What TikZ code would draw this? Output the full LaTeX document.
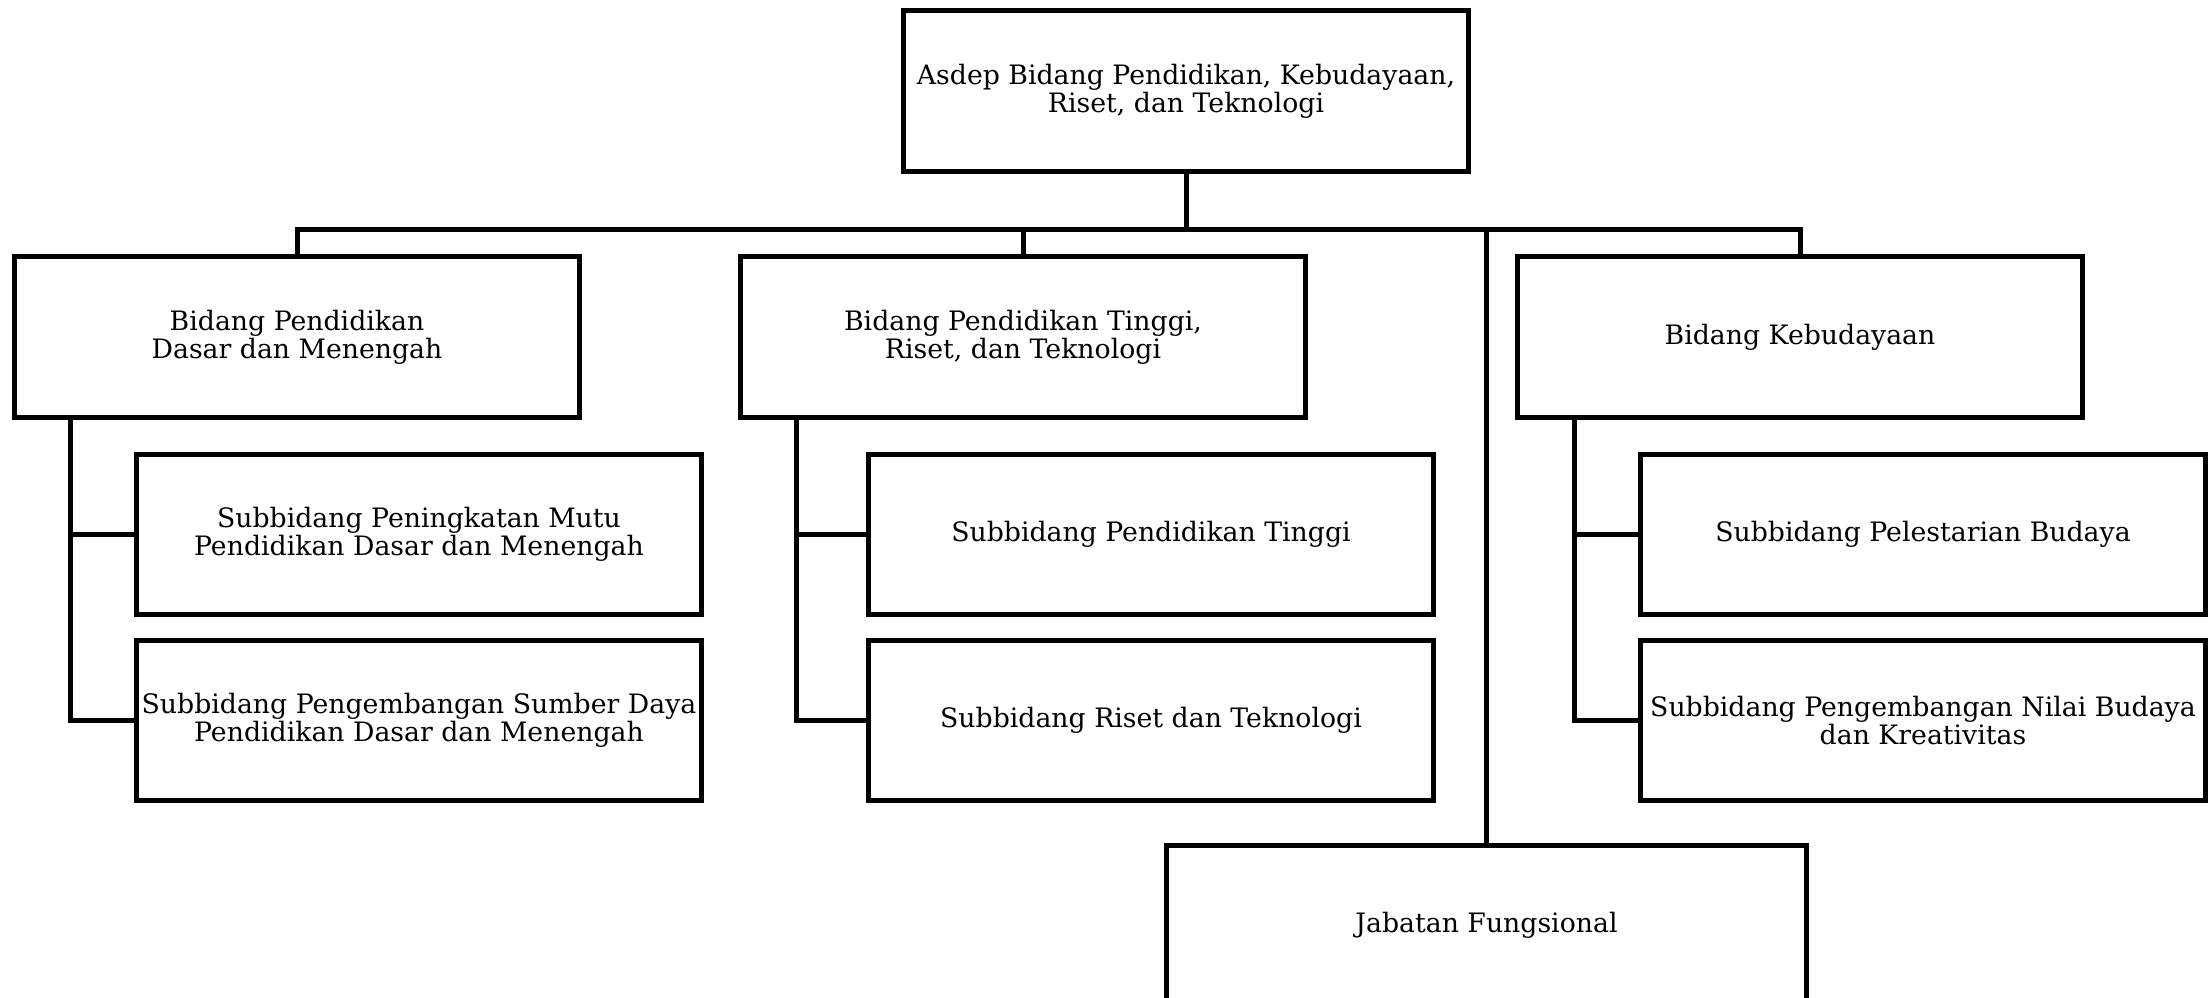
\documentclass[tikz,border=0pt]{standalone}
\usepackage{fontspec}
\setmainfont{DejaVu Serif}
\tikzset{
  unit/.style = {rectangle, draw=black, line width=1.42pt, align=center,
    inner sep=0pt, font=\fontsize{7.6}{7.9}\selectfont},
  bd/.style = {unit, minimum width=5.65cm, minimum height=1.6cm},% bidang / subbidang box
  jf/.style = {unit, minimum width=6.4cm, minimum height=1.6cm},% jabatan box
  link/.style = {draw=black, line width=1.42pt}
}
\begin{document}
\begin{tikzpicture}[x=0.01cm,y=-0.01cm]
\useasboundingbox (0,0) rectangle (2212,998);
\clip (0,0) rectangle (2212,998);
% boxes
\node [bd] (asdep) at (1186,91) {Asdep Bidang Pendidikan, Kebudayaan,\\Riset, dan Teknologi};
\node [bd] (dikdas) at (297,337) {Bidang Pendidikan\\Dasar dan Menengah};
\node [bd] (dikti) at (1023,337) {Bidang Pendidikan Tinggi,\\Riset, dan Teknologi};
\node [bd] (budaya) at (1800,337) {Bidang Kebudayaan};
\node [bd] (mutu) at (419,534.5) {Subbidang Peningkatan Mutu\\Pendidikan Dasar dan Menengah};
\node [bd] (sumber) at (419,720.5) {Subbidang Pengembangan Sumber Daya\\Pendidikan Dasar dan Menengah};
\node [bd] (tinggi) at (1151,534.5) {Subbidang Pendidikan Tinggi};
\node [bd] (riset) at (1151,720.5) {Subbidang Riset dan Teknologi};
\node [bd] (lestari) at (1923,534.5) {Subbidang Pelestarian Budaya};
\node [bd] (nilai) at (1923,720.5) {Subbidang Pengembangan Nilai Budaya\\dan Kreativitas};
\node [jf] (fungsi) at (1486.5,925.5) {Jabatan Fungsional};
% top level lines
\coordinate (bus) at (0,229.5);
\draw [link] (dikdas.north) -- (dikdas.north |- bus) -- (budaya.north |- bus) -- (budaya.north);
\draw [link] (asdep.south) -- (asdep.south |- bus);
\draw [link] (dikti.north) -- (dikti.north |- bus);
\draw [link] (fungsi.north |- bus) -- (fungsi.north);
% subbidang lines
\coordinate (sp1) at ([xshift=0.585cm]dikdas.south west);
\coordinate (sp2) at ([xshift=0.585cm]dikti.south west);
\coordinate (sp3) at ([xshift=0.595cm]budaya.south west);
\draw [link] (sp1) |- (sumber.west);
\draw [link] (sp1 |- mutu.west) -- (mutu.west);
\draw [link] (sp2) |- (riset.west);
\draw [link] (sp2 |- tinggi.west) -- (tinggi.west);
\draw [link] (sp3) |- (nilai.west);
\draw [link] (sp3 |- lestari.west) -- (lestari.west);
\end{tikzpicture}
\end{document}
